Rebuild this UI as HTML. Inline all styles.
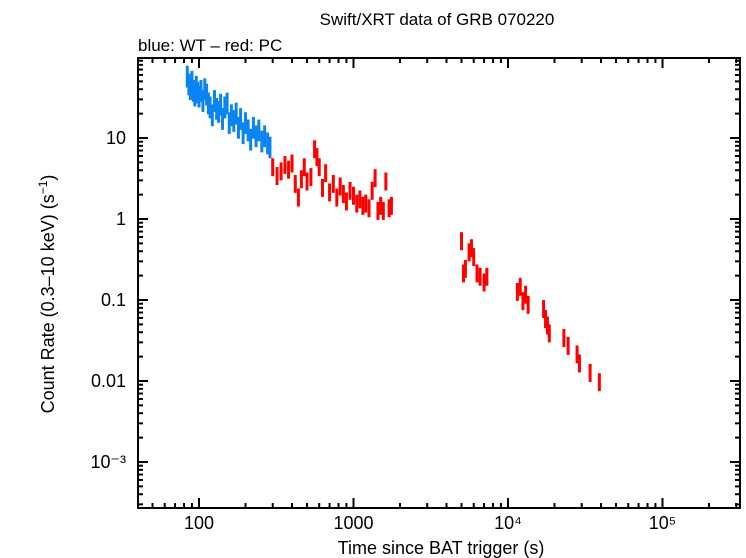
<!DOCTYPE html>
<html><head><meta charset="utf-8"><style>
html,body{margin:0;padding:0;background:#fff;}
svg{display:block;font-family:"Liberation Sans",sans-serif;}
</style></head><body>
<svg id="chart" width="746" height="558" viewBox="0 0 746 558">
<text x="437" y="25" font-size="17" text-anchor="middle">Swift/XRT data of GRB 070220</text>
<text x="138" y="51" font-size="17">blue: WT – red: PC</text>
<text x="441" y="554" font-size="18" text-anchor="middle">Time since BAT trigger (s)</text>
<text transform="translate(54,294) rotate(-90)" font-size="18" text-anchor="middle">Count Rate (0.3–10 keV) (s<tspan font-size="12" dy="-7">−1</tspan><tspan dy="7">)</tspan></text>
<g id="ticks"></g>
<g id="marks"></g>
<rect x="138" y="58" width="602" height="450" fill="none" stroke="#000" stroke-width="2"/>
</svg>
<script>
const wtTimes=[84,86,88,90,92,94,96,98,100,103,106,109,112,115,118,122,126,130,134,138,142,147,152,157,162,168,174,180,186,193,200,208,216,225,234,244,255,266,278,288];
const wtRates=[60,48,42,52,40,35,45,38,34,40,30,42,36,28,25,20,30,24,22,27,18,25,28,16,20,17,21,14,18,12,16,13,10,14,11,13,9.5,11,9,8];
const pcTimes=[300,320,340,360,380,400,420,440,460,480,500,530,560,580,600,630,660,700,740,780,820,860,900,950,1000,1050,1100,1150,1200,1260,1320,1380,1440,1500,1560,1620,1700,1760,
5000,5150,5300,5600,5800,6000,6300,6600,7000,7300,11500,12000,12500,13000,13500,17000,17500,18000,18500,23000,24500,28000,29000,34000,39000];
const pcRates=[4.5,3.5,4,4.8,4.2,5,2.8,1.9,3.2,4.5,3.0,3.4,7.5,6,4.5,2.5,3.8,2.2,2.8,1.9,2.6,2.1,1.7,2.3,2.0,1.6,1.8,1.5,1.6,1.4,2.3,3.3,1.3,1.5,1.3,3.0,1.4,1.5,
0.55,0.22,0.25,0.4,0.45,0.35,0.22,0.2,0.17,0.2,0.13,0.15,0.1,0.12,0.09,0.08,0.06,0.05,0.04,0.035,0.028,0.022,0.017,0.013,0.010];
const xTickLabels=["100","1000","10⁴","10⁵"];
const yTickLabels=["10","1","0.1","0.01","10⁻³"];
const X0=138,X1=740,Y0=58,Y1=508;
const PXD=154.5, X100=199, PYD=81, Y1v=219;
const xMin=2-(X100-X0)/PXD,xMax=2+(X1-X100)/PXD;
const yMin=-(Y1-Y1v)/PYD,yMax=(Y1v-Y0)/PYD;
function xs(t){return X0+(Math.log10(t)-xMin)/(xMax-xMin)*(X1-X0);}
function ys(r){return Y1-(Math.log10(r)-yMin)/(yMax-yMin)*(Y1-Y0);}
const NS="http://www.w3.org/2000/svg";
const tk=document.getElementById('ticks');
function line(p,x1,y1,x2,y2,c,w){const l=document.createElementNS(NS,'line');l.setAttribute('x1',x1);l.setAttribute('y1',y1);l.setAttribute('x2',x2);l.setAttribute('y2',y2);l.setAttribute('stroke',c);l.setAttribute('stroke-width',w);p.appendChild(l);return l;}
function txt(s,x,y,anchor){const t=document.createElementNS(NS,'text');t.textContent=s;t.setAttribute('x',x);t.setAttribute('y',y);t.setAttribute('font-size','18');t.setAttribute('text-anchor',anchor);tk.appendChild(t);return t;}
for(let d=1;d<=5;d++){for(let m=1;m<10;m++){const v=m*Math.pow(10,d);const x=xs(v);if(x<X0||x>X1)continue;const L=m===1?10:5;
const a=line(tk,x,Y1,x,Y1-L,'#000',2);
const b=line(tk,x,Y0,x,Y0+L,'#000',2);
if(m===1&&d>=2){const t=txt(xTickLabels[d-2],x,Y1+21,'middle');}}}
for(let d=-4;d<=2;d++){for(let m=1;m<10;m++){const v=m*Math.pow(10,d);const y=ys(v);if(y<Y0||y>Y1)continue;const L=m===1?10:5;
const a=line(tk,X0,y,X0+L,y,'#000',2);
const b=line(tk,X1,y,X1-L,y,'#000',2);
if(m===1&&d>=-3&&d<=1){const t=txt(yTickLabels[1-d],X0-12,y+6,'end');}}}
const mk=document.getElementById('marks');
function draw(ts,rs,color,name,ef){for(let i=0;i<ts.length;i++){const x=xs(ts[i]),y=ys(rs[i]);const e=rs[i]*ef;
const g=document.createElementNS(NS,'g');
line(g,x,ys(rs[i]+e),x,ys(rs[i]-e),color,3);
line(g,xs(ts[i]*0.98),y,xs(ts[i]*1.02),y,color,2);
mk.appendChild(g);}}
draw(wtTimes,wtRates,'#0a84f0','wt-point',0.3);
draw(pcTimes,pcRates,'#ff0000','pc-point',0.25);
</script>
</body></html>
